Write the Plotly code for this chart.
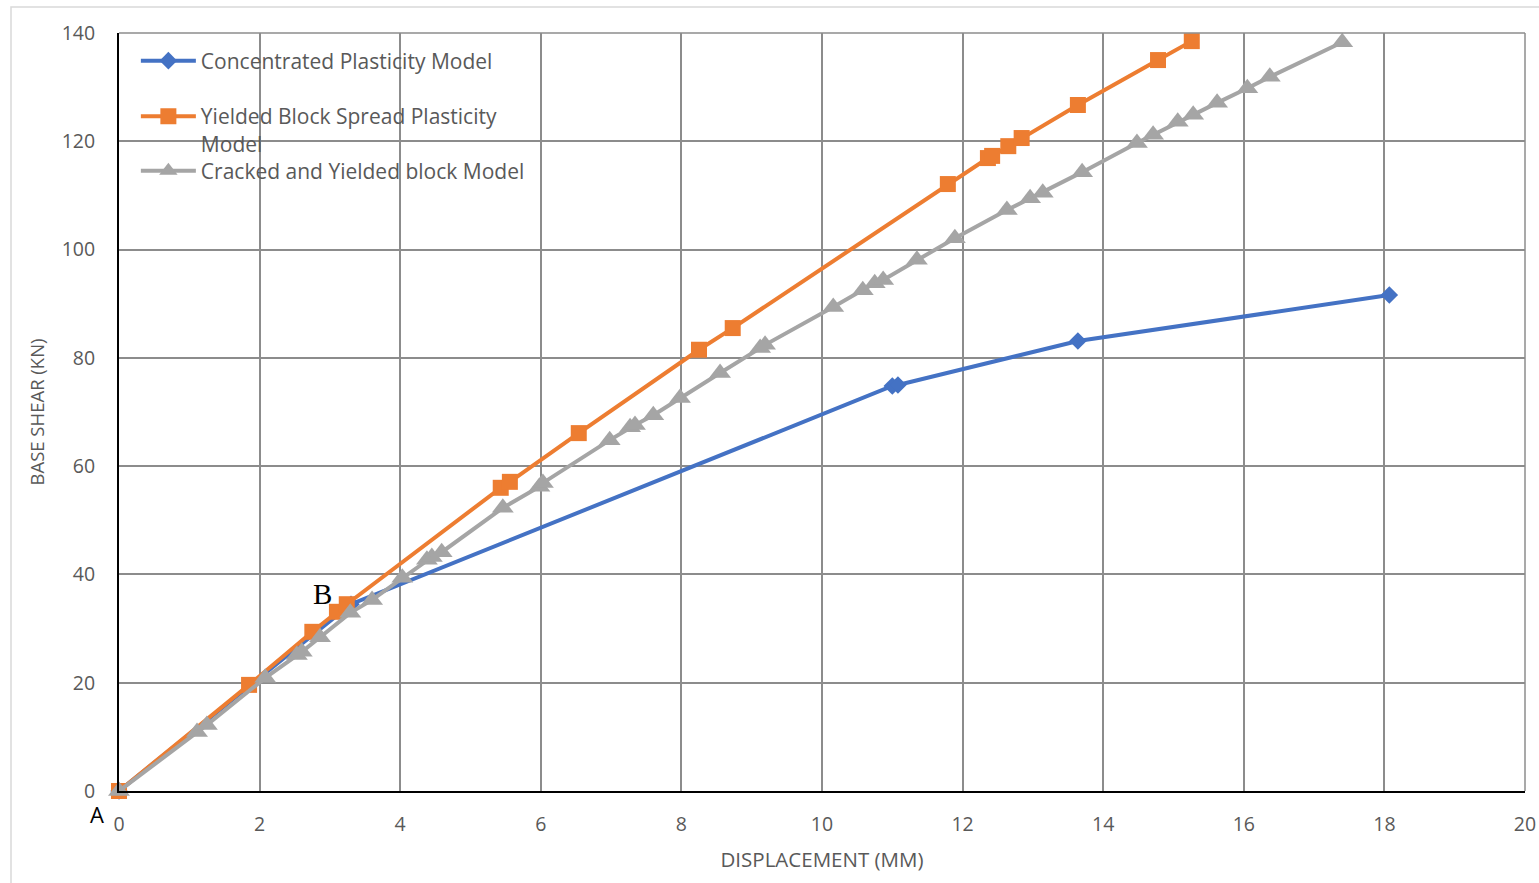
import plotly.graph_objects as go

# Pushover curves: base shear (kN) vs. displacement (mm)
conc_x = [0, 3.3, 11.0, 11.08, 13.64, 18.07]
conc_y = [0, 34.5, 74.8, 75.0, 83.1, 91.6]

spread_x = [0, 1.85, 2.75, 3.10, 3.24, 5.43, 5.56, 6.54, 8.25, 8.73, 11.79,
            12.36, 12.42, 12.65, 12.84, 13.64, 14.78, 15.26]
spread_y = [0, 19.6, 29.4, 33.1, 34.5, 56.0, 57.1, 66.1, 81.5, 85.5, 112.1,
            116.9, 117.3, 119.1, 120.6, 126.7, 135.0, 138.5]

cracked_x = [0, 1.11, 1.25, 2.08, 2.53, 2.60, 2.86, 3.29, 3.60, 4.03, 4.38,
             4.45, 4.59, 5.46, 5.98, 6.03, 6.98, 7.27, 7.34, 7.60, 7.98, 8.55,
             9.12, 9.19, 10.16, 10.58, 10.75, 10.87, 11.35, 11.89, 12.63,
             12.96, 13.14, 13.70, 14.48, 14.71, 15.06, 15.28, 15.62, 16.05,
             16.37, 17.40]
cracked_y = [0, 10.9, 12.2, 20.9, 25.1, 25.7, 28.4, 32.9, 35.3, 39.4, 42.7,
             43.2, 44.1, 52.3, 56.2, 56.9, 64.8, 67.2, 67.6, 69.4, 72.6, 77.2,
             81.8, 82.4, 89.4, 92.5, 93.8, 94.4, 98.1, 102.1, 107.3, 109.5,
             110.5, 114.3, 119.7, 121.2, 123.6, 124.9, 127.1, 129.8, 131.9,
             138.3]

x_ticks = list(range(0, 21, 2))
y_ticks = list(range(0, 141, 20))

BLUE = "#4472C4"
ORANGE = "#ED7D31"
GRAY = "#A5A5A5"
TEXT = "#595959"
GRID = "#8C8C8C"
FONT = "Open Sans"

# plot area in pixels: x 119..1525, y 33..791
PW, PH = 1406, 758


def py(pix):
    """Vertical pixel position -> paper fraction."""
    return (791 - pix) / PH


def px(pix):
    """Horizontal pixel position -> paper fraction."""
    return (pix - 119) / PW


fig = go.Figure()
fig.add_trace(go.Scatter(
    x=conc_x, y=conc_y, mode="lines+markers",
    name="Concentrated Plasticity Model", legend="legend",
    line=dict(color=BLUE, width=4),
    marker=dict(symbol="diamond", size=13.5, color=BLUE),
    cliponaxis=False))
fig.add_trace(go.Scatter(
    x=spread_x, y=spread_y, mode="lines+markers",
    name="Yielded Block Spread Plasticity<br>Model", legend="legend2",
    line=dict(color=ORANGE, width=4),
    marker=dict(symbol="square", size=16, color=ORANGE),
    cliponaxis=False))
fig.add_trace(go.Scatter(
    x=cracked_x, y=cracked_y, mode="lines+markers",
    name="Cracked and Yielded block Model", legend="legend3",
    line=dict(color=GRAY, width=4),
    marker=dict(symbol="triangle-up", size=19, color=GRAY),
    cliponaxis=False))


def leg(y):
    return dict(x=0.012, y=y, xanchor="left", yanchor="middle",
                bgcolor="rgba(0,0,0,0)", itemwidth=55, valign="top",
                font=dict(family=FONT, size=21, color=TEXT))


fig.update_layout(
    width=1539, height=883,
    margin=dict(l=119, r=14, t=33, b=92, autoexpand=False),
    paper_bgcolor="white", plot_bgcolor="white",
    showlegend=True,
    legend=leg(py(61)),
    legend2=leg(py(130)),
    legend3=leg(py(171)),
    xaxis=dict(range=[0, 20], tickvals=x_ticks, showgrid=True,
               gridcolor=GRID, gridwidth=1.5, zeroline=False,
               showline=True, linecolor="black", linewidth=2,
               ticks="", ticklabelstandoff=15, automargin=False,
               tickfont=dict(family=FONT, size=19.5, color=TEXT),
               title=dict(text="DISPLACEMENT (MM)", standoff=16,
                          font=dict(family=FONT, size=20.5, color=TEXT))),
    yaxis=dict(range=[0, 140], tickvals=y_ticks, showgrid=True,
               gridcolor=GRID, gridwidth=1.5, zeroline=False,
               showline=True, linecolor="black", linewidth=2,
               ticks="", ticklabelstandoff=18, automargin=False,
               tickfont=dict(family=FONT, size=19.5, color=TEXT),
               title=dict(text="BASE SHEAR (KN)", standoff=12,
                          font=dict(family=FONT, size=18.5, color=TEXT))),
    shapes=[
        # plot-area top and right edges
        dict(type="line", xref="paper", yref="paper", x0=0, x1=1, y0=1, y1=1,
             line=dict(color=GRID, width=1.5)),
        dict(type="line", xref="paper", yref="paper", x0=1, x1=1, y0=0, y1=1,
             line=dict(color=GRID, width=1.5)),
        # chart frame
        dict(type="rect", xref="paper", yref="paper",
             x0=px(11), x1=px(1560), y0=py(900), y1=py(7),
             line=dict(color="#D9D9D9", width=1.5), layer="below"),
    ],
    annotations=[
        dict(x=2.89, y=36.4, xref="x", yref="y", text="B", showarrow=False,
             font=dict(family="Liberation Serif", size=29, color="black")),
        dict(x=px(96.5), y=py(814), xref="paper", yref="paper", text="A",
             showarrow=False, xanchor="center", yanchor="middle",
             font=dict(family=FONT, size=22, color="black")),
    ],
)

fig.write_html("out.html")
